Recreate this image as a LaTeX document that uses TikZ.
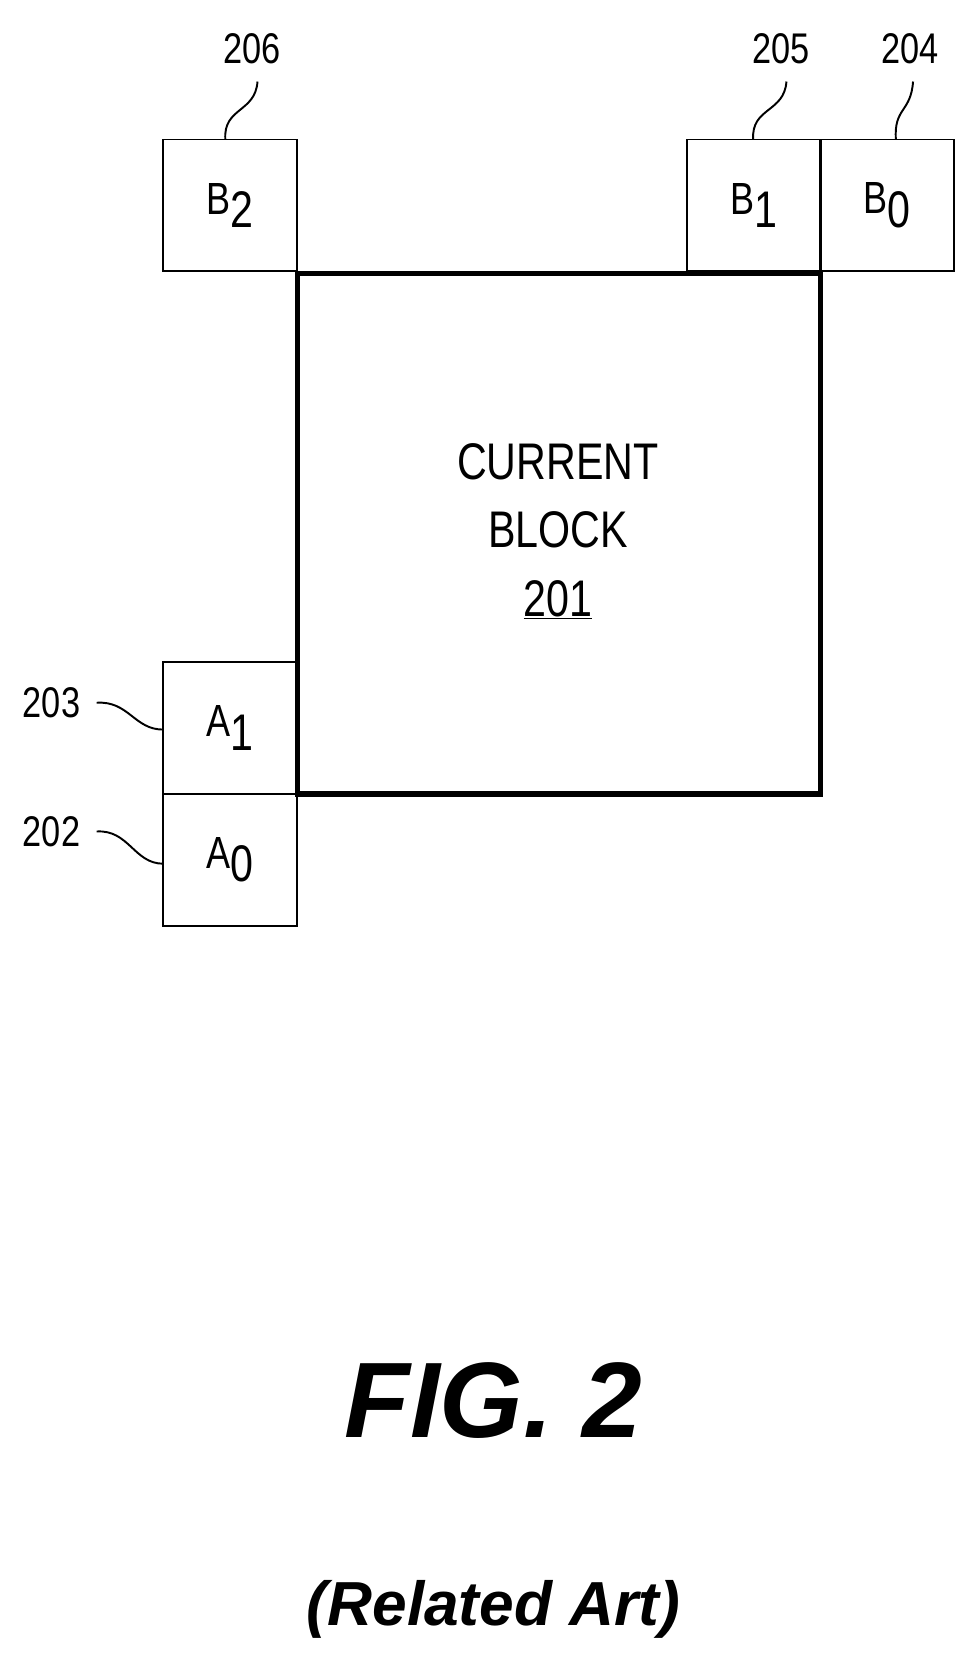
\documentclass[tikz,border=0pt]{standalone}
\usepackage{fontspec}
\setmainfont{Liberation Sans}
\newfontfamily\cond[FakeStretch=0.8]{Liberation Sans}
\begin{document}
\begin{tikzpicture}[x=1pt,y=-1pt,
  cell/.style={draw,line width=1.8pt,minimum width=125pt,minimum height=123pt,inner sep=0pt,font=\cond\fontsize{42}{42}\selectfont},
  lbl/.style={font=\cond\fontsize{40}{40}\selectfont},
  lead/.style={line width=1.8pt}]
\useasboundingbox (0,0) rectangle (900,1550);
\node[draw,line width=5pt,minimum width=488pt,minimum height=485pt,inner sep=0pt] (cb) at (521,497.5) {};
\node[align=center,font=\cond\fontsize{48}{64}\selectfont] (cbt) at (520,495) {CURRENT\\BLOCK\\\underline{201}};
\node[cell] (b2) at (214.5,191.5) {B\raisebox{-0.3em}{\fontsize{48}{48}\selectfont 2}};
\node[cell] (b1) at (702.5,191.5) {B\raisebox{-0.3em}{\fontsize{48}{48}\selectfont 1}};
\node[cell] (b0) at (826.5,191.5) {B\raisebox{-0.3em}{\fontsize{48}{48}\selectfont 0}};
\node[cell] (a1) at (214.5,678.5) {A\raisebox{-0.3em}{\fontsize{48}{48}\selectfont 1}};
\node[cell] (a0) at (214.5,801.5) {A\raisebox{-0.3em}{\fontsize{48}{48}\selectfont 0}};
\node[lbl] (l206) at (235,45) {206};
\node[lbl] (l205) at (728,45) {205};
\node[lbl] (l204) at (848,45) {204};
\node[lbl] (l203) at (48,655) {203};
\node[lbl] (l202) at (48,775) {202};
\coordinate (p206) at (210,130);
\coordinate (p205) at (702,130);
\coordinate (p204) at (835,130);
\coordinate (p203) at (152,680);
\coordinate (p202) at (152,805);
\draw[lead] (240,76) .. controls (238,105) and (208,100) .. (p206);
\draw[lead] (733,76) .. controls (731,105) and (700,100) .. (p205);
\draw[lead] (851,76) .. controls (849,105) and (833,100) .. (p204);
\draw[lead] (90,655) .. controls (120,653) and (125,680) .. (p203);
\draw[lead] (90,775) .. controls (120,773) and (125,805) .. (p202);
\node[font=\fontsize{100}{100}\selectfont\bfseries\itshape] (fig) at (460,1305) {FIG. 2};
\node[font=\fontsize{58}{58}\selectfont\bfseries\itshape] (ra) at (460,1500) {(Related Art)};
\end{tikzpicture}
\end{document}
